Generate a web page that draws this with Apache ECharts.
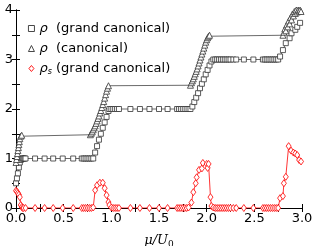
<!DOCTYPE html>
<html>
<head>
<meta charset="utf-8">
<script src="https://cdn.jsdelivr.net/npm/echarts@6/dist/echarts.min.js"></script>
<style>html,body{margin:0;padding:0;background:#fff}#c{width:312px;height:246px}</style>
</head>
<body>
<div id="c"></div>
<script>
// rho, grand canonical (squares)
const gcMu  = [0.00,0.01,0.02,0.03,0.04,0.05,0.06,0.07,0.08,0.09,0.10,0.20,0.30,0.39,0.49,0.60,0.69,0.71,0.73,0.75,0.77,0.79,0.81,0.83,0.85,0.87,0.89,0.91,0.93,0.95,0.97,0.98,1.00,1.02,1.04,1.06,1.08,1.20,1.30,1.40,1.50,1.59,1.69,1.71,1.73,1.75,1.77,1.79,1.81,1.83,1.85,1.87,1.89,1.91,1.93,1.95,1.97,1.99,2.01,2.03,2.05,2.07,2.09,2.11,2.13,2.15,2.17,2.19,2.21,2.23,2.25,2.28,2.31,2.39,2.49,2.59,2.61,2.63,2.65,2.67,2.69,2.71,2.73,2.75,2.77,2.80,2.83,2.87,2.89,2.93,2.95,2.98];
const gcRho = [0.50,0.60,0.70,0.82,0.92,0.97,1.00,1.00,1.00,1.00,1.00,1.00,1.00,1.00,1.00,1.00,1.00,1.00,1.00,1.00,1.00,1.00,1.00,1.12,1.25,1.38,1.50,1.62,1.73,1.84,1.96,2.00,2.00,2.00,2.00,2.00,2.00,2.00,2.00,2.00,2.00,2.00,2.00,2.00,2.00,2.00,2.00,2.00,2.00,2.00,2.05,2.14,2.23,2.32,2.42,2.51,2.60,2.70,2.79,2.88,2.96,3.00,3.00,3.00,3.00,3.00,3.00,3.00,3.00,3.00,3.00,3.00,3.00,3.00,3.00,3.00,3.00,3.00,3.00,3.00,3.00,3.00,3.00,3.00,3.06,3.19,3.33,3.43,3.53,3.60,3.66,3.74];
// rho, canonical (triangles)
const cMu  = [0.000,0.005,0.010,0.015,0.020,0.025,0.030,0.035,0.040,0.050,0.060,0.78,0.79,0.80,0.81,0.82,0.83,0.84,0.85,0.86,0.87,0.88,0.89,0.90,0.91,0.92,0.93,0.94,0.95,0.96,0.97,1.83,1.84,1.85,1.86,1.87,1.88,1.89,1.90,1.91,1.92,1.93,1.94,1.95,1.96,1.97,1.98,1.99,2.00,2.01,2.02,2.03,2.80,2.81,2.82,2.83,2.84,2.85,2.86,2.87,2.88,2.89,2.90,2.91,2.92,2.93,2.94,2.95,2.96,2.97,2.98,2.99];
const cRho = [0.92,0.98,1.04,1.10,1.16,1.22,1.28,1.34,1.40,1.45,1.47,1.48,1.51,1.54,1.58,1.62,1.66,1.71,1.76,1.81,1.86,1.92,1.97,2.03,2.09,2.15,2.22,2.29,2.36,2.42,2.47,2.48,2.53,2.57,2.61,2.66,2.71,2.76,2.81,2.87,2.93,2.99,3.05,3.11,3.17,3.23,3.29,3.35,3.40,3.44,3.47,3.49,3.49,3.55,3.62,3.58,3.70,3.66,3.78,3.72,3.85,3.80,3.92,3.88,3.97,3.93,4.00,3.96,4.00,3.98,4.00,3.97];
// rho_s, grand canonical (diamonds)
const sMu  = [0.00,0.01,0.02,0.03,0.04,0.05,0.06,0.07,0.08,0.10,0.20,0.30,0.39,0.49,0.60,0.69,0.71,0.73,0.75,0.77,0.79,0.81,0.83,0.85,0.88,0.91,0.93,0.95,0.97,0.98,1.00,1.02,1.04,1.06,1.08,1.20,1.30,1.40,1.50,1.59,1.69,1.71,1.73,1.75,1.77,1.79,1.81,1.84,1.86,1.885,1.895,1.92,1.95,1.96,2.00,2.01,2.02,2.04,2.05,2.07,2.09,2.11,2.13,2.15,2.17,2.19,2.21,2.23,2.25,2.28,2.31,2.39,2.49,2.59,2.61,2.63,2.65,2.67,2.69,2.71,2.73,2.75,2.77,2.80,2.81,2.83,2.86,2.885,2.91,2.93,2.95,2.97,2.99];
const sRho = [0.35,0.33,0.30,0.27,0.22,0.06,0.02,0.00,0.00,0.00,0.00,0.00,0.00,0.00,0.00,0.00,0.00,0.00,0.00,0.00,0.00,0.01,0.36,0.46,0.51,0.51,0.40,0.26,0.12,0.06,0.01,0.00,0.00,0.00,0.00,0.00,0.00,0.00,0.00,0.00,0.00,0.00,0.00,0.00,0.00,0.00,0.01,0.11,0.32,0.50,0.62,0.77,0.80,0.91,0.89,0.81,0.89,0.22,0.04,0.01,0.00,0.00,0.00,0.00,0.00,0.00,0.00,0.00,0.00,0.00,0.00,0.00,0.00,0.00,0.00,0.00,0.00,0.00,0.00,0.00,0.00,0.00,0.20,0.24,0.50,0.63,1.25,1.16,1.12,1.10,1.07,0.97,0.94];
const xTicks = [0.0,0.5,1.0,1.5,2.0,2.5,3.0];
const yTicks = [0,1,2,3,4];

const pairs = (xs, ys) => xs.map((x, i) => [x, ys[i]]);
const F = 'DejaVu Sans';
const tick = {show: true, inside: true, length: 4, lineStyle: {color: '#000', width: 1}};
const minor = {show: true, splitNumber: 2, length: 4, lineStyle: {color: '#000', width: 1}};
const line = {show: true, lineStyle: {color: '#000', width: 1}};

const chart = echarts.init(document.getElementById('c'), null, {renderer: 'canvas'});
chart.setOption({
  animation: false,
  backgroundColor: '#fff',
  grid: {left: 16, right: 10, top: 10, bottom: 38, containLabel: false, outerBoundsMode: 'none'},
  legend: {
    orient: 'vertical', left: 23, top: 16, itemGap: 5, itemWidth: 6, itemHeight: 6,
    textStyle: {fontFamily: F, fontSize: 13, color: '#000', lineHeight: 15,
      rich: {
        i: {fontFamily: F, fontStyle: 'italic', fontSize: 13, color: '#000'},
        s: {fontFamily: F, fontStyle: 'italic', fontSize: 8, color: '#000', padding: [6, 0, 0, 0]},
        t: {fontFamily: F, fontSize: 13, color: '#000'}
      }},
    formatter: n => n === 'gc' ? '{i|ρ}{t|  (grand canonical)}' : n === 'c' ? '{i|ρ}{t|  (canonical)}' : '{i|ρ}{s|s}{t| (grand canonical)}',
    data: [
      {name: 'gc', icon: 'path://M0,0H10V10H0Z', itemStyle: {color: '#fff', borderColor: '#333', borderWidth: 0.9}},
      {name: 'c', icon: 'path://M5,0L10,10H0Z', itemStyle: {color: '#fff', borderColor: '#333', borderWidth: 0.9}},
      {name: 's', icon: 'path://M5,0L10,6L5,12L0,6Z', itemStyle: {color: '#fff', borderColor: '#ff0000', borderWidth: 0.9}}
    ]
  },
  xAxis: [
    {type: 'value', min: 0, max: 3, interval: 0.5, position: 'bottom',
     axisLine: line, axisTick: tick, minorTick: minor, splitLine: {show: false},
     axisLabel: {fontFamily: F, fontSize: 13, color: '#000', margin: 4,
       formatter: v => xTicks.includes(v) ? v.toFixed(1) : ''},
     name: '{i|μ/U}{s|0}', nameLocation: 'middle', nameGap: 25,
     nameTextStyle: {rich: {
       i: {fontFamily: 'DejaVu Serif', fontStyle: 'italic', fontSize: 13, color: '#000'},
       s: {fontFamily: 'DejaVu Serif', fontSize: 9, color: '#000', padding: [7, 0, 0, 0]}}}},
    {type: 'value', min: 0, max: 3, interval: 0.5, position: 'top',
     axisLine: line, axisTick: tick, minorTick: minor, splitLine: {show: false}, axisLabel: {show: false}}
  ],
  yAxis: [
    {type: 'value', min: 0, max: 4, interval: 1, position: 'left',
     axisLine: line, axisTick: tick, minorTick: minor, splitLine: {show: false},
     axisLabel: {fontFamily: F, fontSize: 13, color: '#000', margin: 3,
       formatter: v => yTicks.includes(v) ? String(v) : ''}},
    {type: 'value', min: 0, max: 4, interval: 1, position: 'right',
     axisLine: line, axisTick: tick, minorTick: minor, splitLine: {show: false}, axisLabel: {show: false}}
  ],
  series: [
    {name: 'gc', type: 'line', data: pairs(gcMu, gcRho), symbol: 'rect', symbolSize: 5, showAllSymbol: true,
     lineStyle: {color: '#444', width: 0.8}, itemStyle: {color: '#fff', borderColor: '#333', borderWidth: 0.8}, z: 2},
    {name: 'c', type: 'line', data: pairs(cMu, cRho), symbol: 'triangle', symbolSize: 6, showAllSymbol: true,
     lineStyle: {color: '#444', width: 0.8}, itemStyle: {color: '#fff', borderColor: '#333', borderWidth: 0.8}, z: 3},
    {name: 's', type: 'line', data: pairs(sMu, sRho), symbol: 'diamond', symbolSize: [5, 7], showAllSymbol: true,
     lineStyle: {color: '#f00', width: 0.8}, itemStyle: {color: '#fff', borderColor: '#f00', borderWidth: 0.8}, z: 4}
  ]
});
</script>
</body>
</html>
